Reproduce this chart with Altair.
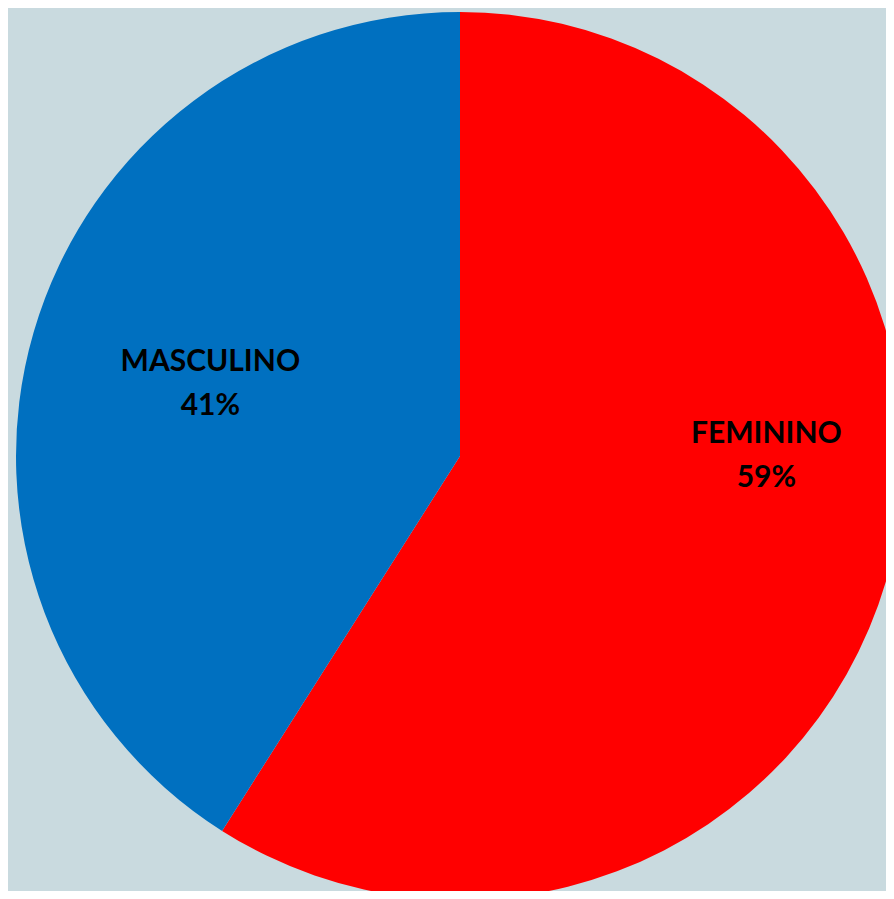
import altair as alt
import pandas as pd

categories = ["FEMININO", "MASCULINO"]
values = [59, 41]
pct_labels = ["59%", "41%"]
colors = ["#FF0000", "#0070C0"]

df = pd.DataFrame({
    "cat": categories,
    "val": values,
    "idx": [0, 1],
    "label": [f"{c}\n{p}" for c, p in zip(categories, pct_labels)],
})

cx, cy, R = 452, 448, 444
theta_scale = alt.Scale(domain=[0, 100], range=[0, 6.283185307179586])

base = alt.Chart(df).transform_window(
    end="sum(val)", sort=[alt.SortField("idx")]
).transform_calculate(
    start="datum.end - datum.val", mid="datum.end - datum.val / 2"
)

pie = base.mark_arc(strokeWidth=0).encode(
    theta=alt.Theta("start:Q", scale=theta_scale),
    theta2="end:Q",
    color=alt.Color("cat:N", scale=alt.Scale(domain=categories, range=colors), legend=None),
    x=alt.value(cx), y=alt.value(cy), radius=alt.value(R),
)

def label_layer(cat, r, dy):
    return base.transform_filter(alt.datum.cat == cat).mark_text(
        font="Lato", fontWeight="bold", fontSize=30, color="black",
        lineBreak="\n", lineHeight=44, align="center", baseline="middle", dy=dy,
    ).encode(
        theta=alt.Theta("mid:Q", scale=theta_scale),
        text="label:N", x=alt.value(cx), y=alt.value(cy), radius=alt.value(r),
    )

chart = alt.layer(
    pie,
    label_layer("FEMININO", 319, -111),
    label_layer("MASCULINO", 260, -21),
).properties(
    width=878, height=883, padding=0, autosize=alt.AutoSizeParams(type="none"),
    background="#c9dadf",
).configure_view(strokeWidth=0)

chart.save("out.html", embed_options={"renderer": "svg", "actions": False})
